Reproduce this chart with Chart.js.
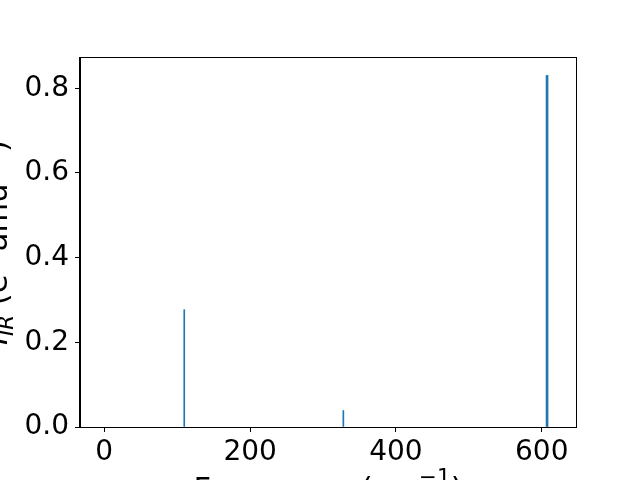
<!DOCTYPE html>
<html>
<head>
<meta charset="utf-8">
<script src="https://cdn.jsdelivr.net/npm/chart.js@4/dist/chart.umd.min.js"></script>
<style>
  html, body { margin: 0; padding: 0; background: #fff; }
</style>
</head>
<body>
<canvas id="ir-chart" width="640" height="480"></canvas>
<script>
// IR modes
const freqs = [109.7, 327.9, 607.3];      // cm^-1
const intens = [0.277, 0.039, 0.830];    // e^2 amu^-1
const xTicks = [0, 200, 400, 600];
const yTicks = [0.0, 0.2, 0.4, 0.6, 0.8];

const FONT = 'DejaVu Sans';
const BLUE = '#1f77b4';

// draws the box and the axis titles (the titles need sub/superscripts)
const framePlugin = {
    id: 'frame',
    afterDraw(chart) {
        const ctx = chart.ctx;
        const a = chart.chartArea;
        ctx.save();
        ctx.strokeStyle = '#000';
        ctx.lineWidth = 1;
        ctx.strokeRect(Math.round(a.left) - 0.5, Math.round(a.top) - 0.5,
            Math.round(a.right - a.left) + 1, Math.round(a.bottom - a.top) + 1);

        ctx.fillStyle = '#000';
        ctx.textBaseline = 'alphabetic';

        // x title: Frequency (cm^-1)
        const big = '30.5px "' + FONT + '"';
        const small = '21.4px "' + FONT + '"';
        const xParts = [
            { t: 'Frequency (cm', f: big, dy: 0 },
            { t: '\u22121', f: small, dy: -15 },
            { t: ')', f: big, dy: 0 }
        ];
        drawParts(ctx, xParts, (a.left + a.right) / 2, 499);

        // y title: I_IR (e^2 amu^-1), rotated
        ctx.translate(7, (a.top + a.bottom) / 2);
        ctx.rotate(-Math.PI / 2);
        const yParts = [
            { t: 'I', f: 'italic ' + big, dy: 0 },
            { t: 'IR', f: 'italic ' + small, dy: 6 },
            { t: ' (e', f: big, dy: 0 },
            { t: '2', f: small, dy: -15 },
            { t: ' amu', f: big, dy: 0 },
            { t: '\u22121', f: small, dy: -15 },
            { t: ')', f: big, dy: 0 }
        ];
        drawParts(ctx, yParts, 0, 0);
        ctx.restore();
    }
};

function drawParts(ctx, parts, cx, y) {
    let w = 0;
    parts.forEach(p => { ctx.font = p.f; w += ctx.measureText(p.t).width; });
    let x = cx - w / 2;
    ctx.textAlign = 'left';
    parts.forEach(p => {
        ctx.font = p.f;
        ctx.fillText(p.t, x, y + p.dy);
        x += ctx.measureText(p.t).width;
    });
}

const points = freqs.map((f, i) => ({ x: f, y: intens[i] }));
const strongest = intens.indexOf(Math.max(...intens));

const tickFont = { family: FONT, size: 28 };

const config = {
    type: 'bar',
    data: {
        datasets: [
            {
                data: points,
                backgroundColor: BLUE,
                barThickness: 1,
                grouped: false
            },
            {
                // the tall line is drawn a bit wider in the picture
                data: [points[strongest]],
                backgroundColor: BLUE,
                barThickness: 2,
                grouped: false
            }
        ]
    },
    options: {
        responsive: false,
        animation: false,
        layout: { padding: { top: 58, right: 64, left: 0, bottom: 0 } },
        plugins: {
            legend: { display: false },
            tooltip: { enabled: false }
        },
        scales: {
            x: {
                type: 'linear',
                min: -33.3,
                max: 647,
                offset: false,
                afterFit: s => { s.height = 53; },
                afterBuildTicks: s => { s.ticks = xTicks.map(v => ({ value: v })); },
                ticks: {
                    font: tickFont,
                    color: '#000',
                    padding: 4,
                    maxRotation: 0,
                    includeBounds: false
                },
                grid: {
                    display: true,
                    drawOnChartArea: false,
                    drawTicks: true,
                    tickLength: 5,
                    tickColor: '#000',
                    offset: false
                },
                border: { display: true, color: '#000', width: 1 }
            },
            y: {
                min: 0,
                max: 0.8715,
                afterFit: s => { s.width = 80; },
                afterBuildTicks: s => { s.ticks = yTicks.map(v => ({ value: v })); },
                ticks: {
                    font: tickFont,
                    color: '#000',
                    padding: 6,
                    includeBounds: false,
                    callback: v => v.toFixed(1)
                },
                grid: {
                    display: true,
                    drawOnChartArea: false,
                    drawTicks: true,
                    tickLength: 5,
                    tickColor: '#000'
                },
                border: { display: true, color: '#000', width: 1 }
            }
        }
    },
    plugins: [framePlugin]
};

new Chart(document.getElementById('ir-chart').getContext('2d'), config);
</script>
</body>
</html>
